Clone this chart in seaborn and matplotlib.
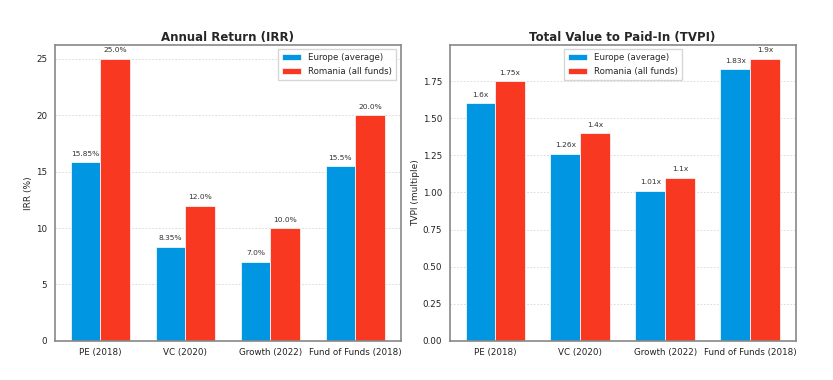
import pandas as pd
import seaborn as sns
import matplotlib.pyplot as plt

# Données
categories = ["PE (2018)", "VC (2020)", "Growth (2022)", "Fund of Funds (2018)"]
series = ["Europe (average)", "Romania (all funds)"]
irr_europe = [15.85, 8.35, 7.0, 15.5]
irr_romania = [25.0, 12.0, 10.0, 20.0]
tvpi_europe = [1.6, 1.26, 1.01, 1.83]
tvpi_romania = [1.75, 1.4, 1.1, 1.9]
irr_labels_eu = ["15.85%", "8.35%", "7.0%", "15.5%"]
irr_labels_ro = ["25.0%", "12.0%", "10.0%", "20.0%"]
tvpi_labels_eu = ["1.6x", "1.26x", "1.01x", "1.83x"]
tvpi_labels_ro = ["1.75x", "1.4x", "1.1x", "1.9x"]

colors = ["#0096E1", "#F93822"]


def long_table(eu, ro):
    return pd.DataFrame({
        "category": categories * 2,
        "region": [series[0]] * 4 + [series[1]] * 4,
        "value": list(eu) + list(ro),
    })


def draw(ax, df, title, ylabel, labels, legend_loc):
    sns.barplot(data=df, x="category", y="value", hue="region", order=categories,
                hue_order=series, palette=colors, width=0.7, gap=0,
                edgecolor="white", linewidth=0.5, saturation=1, ax=ax)
    for cont, labs in zip(ax.containers, labels):
        for bar, lab in zip(cont, labs):
            ax.annotate(lab, (bar.get_x() + bar.get_width() / 2, bar.get_height()),
                        xytext=(0, 4), textcoords="offset points",
                        ha="center", va="bottom", fontsize=5.4, color="#333333")
    ax.set_xlim(-0.535, 3.535)
    ax.set_ylim(0, df["value"].max() * 1.05)
    ax.set_title(title, fontsize=8.5, fontweight="bold", pad=3)
    ax.set_ylabel(ylabel, fontsize=6.5, labelpad=2)
    ax.set_xlabel("")
    ax.yaxis.grid(True, linestyle=(0, (2, 2)), color="#d5d5d5", linewidth=0.6)
    ax.xaxis.grid(False)
    ax.set_axisbelow(True)
    ax.tick_params(axis="both", labelsize=6.3, length=2.5, width=0.6, color="#555555",
                   labelcolor="#222222", pad=3)
    for sp in ax.spines.values():
        sp.set_visible(True)
        sp.set_color("#888888")
        sp.set_linewidth(1.2)
    ax.legend(loc=legend_loc, fontsize=6.2, frameon=True, handlelength=2.2,
              borderpad=0.5, labelspacing=0.5, fancybox=False, edgecolor="#cccccc")


sns.set_style("white")
fig = plt.figure(figsize=(8.33, 3.8), dpi=100)
ax1 = fig.add_axes([0.066, 0.103, 0.415, 0.779])
ax2 = fig.add_axes([0.540, 0.103, 0.415, 0.779])

draw(ax1, long_table(irr_europe, irr_romania), "Annual Return (IRR)", "IRR (%)",
     [irr_labels_eu, irr_labels_ro], "upper right")
draw(ax2, long_table(tvpi_europe, tvpi_romania), "Total Value to Paid-In (TVPI)",
     "TVPI (multiple)", [tvpi_labels_eu, tvpi_labels_ro], "upper center")
ax2.set_yticks([0, 0.25, 0.5, 0.75, 1.0, 1.25, 1.5, 1.75])
ax2.set_yticklabels(["0.00", "0.25", "0.50", "0.75", "1.00", "1.25", "1.50", "1.75"])

fig.savefig("out.png", dpi=100)
